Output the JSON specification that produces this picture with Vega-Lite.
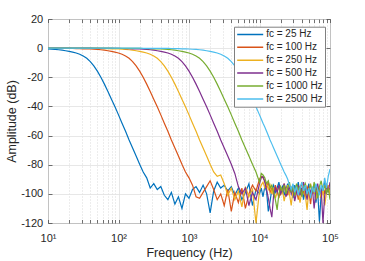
{
"$schema": "https://vega.github.io/schema/vega-lite/v6.json",
"width": 282, "height": 204,
"autosize": {"type": "none"},
"padding": {"left": 48, "top": 19, "right": 35, "bottom": 38},
"background": "white",
"config": {
  "view": {"stroke": "#4d4d4d", "strokeWidth": 1},
  "font": "Liberation Sans",
  "axis": {"domain": false, "labelFont": "Liberation Sans", "labelFontSize": 11, "labelColor": "#262626", "titleFont": "Liberation Sans", "titleFontSize": 12.5, "titleFontWeight": "normal", "titleColor": "#262626", "tickColor": "#4d4d4d", "tickWidth": 0.8},
  "legend": {"labelFont": "Liberation Sans", "labelFontSize": 10, "labelColor": "#262626"}
},
"data": {"values": [
{"f":10,"25":-0.6,"100":-0.1,"250":0,"500":0,"1000":0,"2500":0},
{"f":11.22,"25":-0.75,"100":-0.1,"250":0,"500":0,"1000":0,"2500":0},
{"f":12.59,"25":-0.9,"100":-0.1,"250":0,"500":0,"1000":0,"2500":0},
{"f":14.13,"25":-1.1,"100":-0.12,"250":0,"500":0,"1000":0,"2500":0},
{"f":15.85,"25":-1.4,"100":-0.15,"250":-0.05,"500":0,"1000":0,"2500":0},
{"f":17.78,"25":-1.8,"100":-0.17,"250":-0.05,"500":0,"1000":0,"2500":0},
{"f":19.95,"25":-2.2,"100":-0.2,"250":-0.05,"500":0,"1000":0,"2500":0},
{"f":22.39,"25":-2.7,"100":-0.25,"250":-0.1,"500":0,"1000":0,"2500":0},
{"f":25.12,"25":-3.3,"100":-0.3,"250":-0.1,"500":0,"1000":0,"2500":0},
{"f":28.18,"25":-4.2,"100":-0.37,"250":-0.1,"500":0,"1000":0,"2500":0},
{"f":31.62,"25":-5.4,"100":-0.45,"250":-0.1,"500":-0.05,"1000":0,"2500":0},
{"f":35.48,"25":-7,"100":-0.52,"250":-0.12,"500":-0.05,"1000":0,"2500":0},
{"f":39.81,"25":-9.2,"100":-0.6,"250":-0.15,"500":-0.05,"1000":0,"2500":0},
{"f":44.67,"25":-12.2,"100":-0.75,"250":-0.17,"500":-0.1,"1000":0,"2500":0},
{"f":50.12,"25":-15.8,"100":-0.9,"250":-0.2,"500":-0.1,"1000":0,"2500":0},
{"f":56.23,"25":-20,"100":-1.1,"250":-0.25,"500":-0.1,"1000":0,"2500":0},
{"f":63.1,"25":-24.7,"100":-1.4,"250":-0.3,"500":-0.1,"1000":-0.05,"2500":0},
{"f":70.79,"25":-29.7,"100":-1.8,"250":-0.37,"500":-0.12,"1000":-0.05,"2500":0},
{"f":79.43,"25":-35,"100":-2.2,"250":-0.45,"500":-0.15,"1000":-0.05,"2500":0},
{"f":89.13,"25":-40.2,"100":-2.7,"250":-0.52,"500":-0.17,"1000":-0.1,"2500":0},
{"f":100,"25":-45.8,"100":-3.3,"250":-0.6,"500":-0.2,"1000":-0.1,"2500":0},
{"f":112.2,"25":-51.5,"100":-4.2,"250":-0.75,"500":-0.25,"1000":-0.1,"2500":0},
{"f":125.9,"25":-57,"100":-5.4,"250":-0.9,"500":-0.3,"1000":-0.1,"2500":0},
{"f":141.3,"25":-63,"100":-7,"250":-1.1,"500":-0.37,"1000":-0.12,"2500":0},
{"f":158.5,"25":-68.5,"100":-9.2,"250":-1.4,"500":-0.45,"1000":-0.15,"2500":-0.05},
{"f":177.8,"25":-74,"100":-12.2,"250":-1.8,"500":-0.52,"1000":-0.17,"2500":-0.05},
{"f":199.5,"25":-79.7,"100":-15.8,"250":-2.2,"500":-0.6,"1000":-0.2,"2500":-0.05},
{"f":223.9,"25":-85,"100":-20,"250":-2.7,"500":-0.75,"1000":-0.25,"2500":-0.1},
{"f":251.2,"25":-89,"100":-24.7,"250":-3.3,"500":-0.9,"1000":-0.3,"2500":-0.1},
{"f":281.8,"25":-96,"100":-29.7,"250":-4.2,"500":-1.1,"1000":-0.37,"2500":-0.1},
{"f":316.2,"25":-93,"100":-35,"250":-5.4,"500":-1.4,"1000":-0.45,"2500":-0.1},
{"f":354.8,"25":-97,"100":-40.2,"250":-7,"500":-1.8,"1000":-0.52,"2500":-0.12},
{"f":398.1,"25":-95,"100":-45.8,"250":-9.2,"500":-2.2,"1000":-0.6,"2500":-0.15},
{"f":446.7,"25":-101,"100":-51.5,"250":-12.2,"500":-2.7,"1000":-0.75,"2500":-0.17},
{"f":501.2,"25":-104,"100":-57,"250":-15.8,"500":-3.3,"1000":-0.9,"2500":-0.2},
{"f":562.3,"25":-99,"100":-63,"250":-20,"500":-4.2,"1000":-1.1,"2500":-0.25},
{"f":631,"25":-107,"100":-68.5,"250":-24.7,"500":-5.4,"1000":-1.4,"2500":-0.3},
{"f":707.9,"25":-102,"100":-74,"250":-29.7,"500":-7,"1000":-1.8,"2500":-0.37},
{"f":794.3,"25":-110,"100":-79.7,"250":-35,"500":-9.2,"1000":-2.2,"2500":-0.45},
{"f":891.3,"25":-100,"100":-85,"250":-40.2,"500":-12.2,"1000":-2.7,"2500":-0.52},
{"f":1000,"25":-103,"100":-89,"250":-45.8,"500":-15.8,"1000":-3.3,"2500":-0.6},
{"f":1122,"25":-97,"100":-94,"250":-51.5,"500":-20,"1000":-4.2,"2500":-0.75},
{"f":1259,"25":-95,"100":-102,"250":-57,"500":-24.7,"1000":-5.4,"2500":-0.9},
{"f":1413,"25":-99,"100":-103,"250":-63,"500":-29.7,"1000":-7,"2500":-1.1},
{"f":1585,"25":-94,"100":-99,"250":-68.5,"500":-35,"1000":-9.2,"2500":-1.4},
{"f":1778,"25":-100,"100":-95,"250":-74,"500":-40.2,"1000":-12.2,"2500":-1.8},
{"f":1995,"25":-113,"100":-91,"250":-79.7,"500":-45.8,"1000":-15.8,"2500":-2.2},
{"f":2239,"25":-98,"100":-97,"250":-85,"500":-51.5,"1000":-20,"2500":-2.7},
{"f":2512,"25":-92,"100":-104,"250":-88,"500":-57,"1000":-24.7,"2500":-3.3},
{"f":2818,"25":-96,"100":-100,"250":-87,"500":-63,"1000":-29.7,"2500":-4.2},
{"f":3162,"25":-94,"100":-108,"250":-93,"500":-68.5,"1000":-35,"2500":-5.4},
{"f":3548,"25":-98,"100":-97,"250":-101,"500":-74,"1000":-40.2,"2500":-7},
{"f":3981,"25":-95,"100":-112,"250":-96,"500":-79.7,"1000":-45.8,"2500":-9.2},
{"f":4467,"25":-101,"100":-99,"250":-104,"500":-86,"1000":-51.5,"2500":-12.2},
{"f":5012,"25":-96,"100":-106,"250":-98,"500":-95,"1000":-57,"2500":-15.8},
{"f":5623,"25":-104,"100":-96,"250":-109,"500":-100,"1000":-63,"2500":-20},
{"f":6310,"25":-99,"100":-110,"250":-95,"500":-96,"1000":-68.5,"2500":-24.7},
{"f":7079,"25":-93,"100":-100,"250":-102,"500":-108,"1000":-74,"2500":-29.7},
{"f":7943,"25":-108,"100":-94,"250":-97,"500":-99,"1000":-79.7,"2500":-35},
{"f":8913,"25":-97,"100":-98,"250":-120,"500":-104,"1000":-85,"2500":-40.2},
{"f":10000,"25":-100,"100":-90,"250":-98,"500":-93,"1000":-92,"2500":-45.8},
{"f":10593,"25":-96,"100":-88,"250":-94,"500":-89,"1000":-86,"2500":-48.6},
{"f":11220,"25":-102,"100":-89,"250":-92,"500":-88,"1000":-87,"2500":-51.5},
{"f":11885,"25":-95,"100":-91,"250":-96,"500":-92,"1000":-89,"2500":-54.2},
{"f":12589,"25":-98,"100":-95,"250":-93,"500":-97,"1000":-93,"2500":-57},
{"f":13335,"25":-112,"100":-92,"250":-97,"500":-103,"1000":-91,"2500":-60},
{"f":14125,"25":-105,"100":-99,"250":-94,"500":-110,"1000":-96,"2500":-63},
{"f":14962,"25":-97,"100":-96,"250":-100,"500":-116,"1000":-94,"2500":-65.7},
{"f":15849,"25":-94,"100":-101,"250":-96,"500":-101,"1000":-99,"2500":-68.5},
{"f":16788,"25":-99,"100":-94,"250":-103,"500":-96,"1000":-104,"2500":-71.2},
{"f":17783,"25":-96,"100":-98,"250":-99,"500":-99,"1000":-111,"2500":-74},
{"f":18836,"25":-92,"100":-103,"250":-95,"500":-94,"1000":-100,"2500":-76.8},
{"f":19953,"25":-98,"100":-96,"250":-101,"500":-100,"1000":-95,"2500":-79.7},
{"f":21135,"25":-95,"100":-99,"250":-97,"500":-97,"1000":-98,"2500":-82.3},
{"f":22387,"25":-101,"100":-93,"250":-105,"500":-93,"1000":-94,"2500":-85},
{"f":23714,"25":-97,"100":-97,"250":-99,"500":-102,"1000":-100,"2500":-87.3},
{"f":25119,"25":-93,"100":-101,"250":-94,"500":-98,"1000":-96,"2500":-90},
{"f":26607,"25":-99,"100":-95,"250":-100,"500":-95,"1000":-92,"2500":-94},
{"f":28184,"25":-96,"100":-98,"250":-108,"500":-100,"1000":-99,"2500":-97},
{"f":29854,"25":-103,"100":-94,"250":-97,"500":-96,"1000":-95,"2500":-93},
{"f":31623,"25":-94,"100":-100,"250":-102,"500":-105,"1000":-101,"2500":-99},
{"f":33497,"25":-98,"100":-97,"250":-95,"500":-99,"1000":-93,"2500":-95},
{"f":35481,"25":-92,"100":-104,"250":-99,"500":-94,"1000":-97,"2500":-101},
{"f":37584,"25":-100,"100":-96,"250":-106,"500":-101,"1000":-95,"2500":-96},
{"f":39811,"25":-96,"100":-93,"250":-98,"500":-97,"1000":-102,"2500":-92},
{"f":42170,"25":-104,"100":-99,"250":-94,"500":-92,"1000":-96,"2500":-98},
{"f":44668,"25":-95,"100":-102,"250":-101,"500":-98,"1000":-93,"2500":-94},
{"f":47315,"25":-99,"100":-95,"250":-111,"500":-104,"1000":-100,"2500":-100},
{"f":50119,"25":-93,"100":-98,"250":-97,"500":-95,"1000":-97,"2500":-96},
{"f":53088,"25":-101,"100":-107,"250":-93,"500":-99,"1000":-94,"2500":-103},
{"f":56234,"25":-97,"100":-96,"250":-100,"500":-96,"1000":-99,"2500":-95},
{"f":59566,"25":-94,"100":-100,"250":-96,"500":-110,"1000":-92,"2500":-99},
{"f":63096,"25":-106,"100":-94,"250":-104,"500":-98,"1000":-97,"2500":-93},
{"f":66834,"25":-98,"100":-99,"250":-95,"500":-93,"1000":-103,"2500":-97},
{"f":70795,"25":-119,"100":-97,"250":-99,"500":-100,"1000":-95,"2500":-101},
{"f":74989,"25":-100,"100":-103,"250":-102,"500":-96,"1000":-91,"2500":-94},
{"f":79433,"25":-95,"100":-95,"250":-96,"500":-120,"1000":-98,"2500":-98},
{"f":84140,"25":-92,"100":-100,"250":-108,"500":-101,"1000":-94,"2500":-89},
{"f":89125,"25":-99,"100":-93,"250":-99,"500":-94,"1000":-100,"2500":-96},
{"f":94406,"25":-96,"100":-98,"250":-94,"500":-99,"1000":-96,"2500":-88},
{"f":100000,"25":-97,"100":-96,"250":-101,"500":-92,"1000":-104,"2500":-83}
]},
"transform": [{"fold": ["25","100","250","500","1000","2500"], "as": ["fc","amp"]}],
"layer": [
  {
    "mark": {"type": "line", "strokeWidth": 1.2, "clip": true},
    "encoding": {
      "x": {"field": "f", "type": "quantitative",
        "scale": {"type": "log", "domain": [10, 100000], "nice": false},
        "axis": {"orient": "bottom",
          "values": [10,20,30,40,50,60,70,80,90,100,200,300,400,500,600,700,800,900,1000,2000,3000,4000,5000,6000,7000,8000,9000,10000,20000,30000,40000,50000,60000,70000,80000,90000,100000],
          "labelExpr": "abs(log(datum.value)/LN10 - round(log(datum.value)/LN10)) < 0.01 ? '10' + ['⁰','¹','²','³','⁴','⁵'][round(log(datum.value)/LN10)] : ''",
          "labelFlush": false, "labelOverlap": false, "labelBound": false,
          "tickSize": -3.5, "labelPadding": 12.5,
          "grid": true,
          "gridColor": {"condition": {"test": "abs(log(datum.value)/LN10 - round(log(datum.value)/LN10)) < 0.01", "value": "#e1e1e1"}, "value": "#d2d2d2"},
          "gridDash": {"condition": {"test": "abs(log(datum.value)/LN10 - round(log(datum.value)/LN10)) < 0.01", "value": []}, "value": [1, 2]},
          "gridWidth": 0.8,
          "title": "Frequency (Hz)", "titleY": 33, "titleBaseline": "alphabetic"}},
      "y": {"field": "amp", "type": "quantitative",
        "scale": {"domain": [-120, 20], "nice": false, "zero": false},
        "axis": {"orient": "left", "values": [-120,-100,-80,-60,-40,-20,0,20],
          "labelExpr": "'' + datum.value",
          "tickSize": -4, "labelPadding": 9.3,
          "grid": true, "gridColor": "#e1e1e1", "gridWidth": 0.8,
          "title": "Amplitude (dB)", "titleX": -32.5, "titleY": 102, "titleAngle": 270, "titleAlign": "center", "titleBaseline": "alphabetic"}},
      "color": {"field": "fc", "type": "nominal",
        "scale": {"domain": ["25","100","250","500","1000","2500"], "range": ["#0072BD","#D95319","#EDB120","#7E2F8E","#77AC30","#4DBEEE"]},
        "legend": {"orient": "none", "legendX": 186, "legendY": 7.7, "title": null,
          "labelExpr": "'fc = ' + datum.label + ' Hz'",
          "fillColor": "white", "strokeColor": "#808080", "padding": 2.2,
          "symbolType": "stroke", "symbolSize": 676, "symbolStrokeWidth": 1.5,
          "clipHeight": 11, "rowPadding": 1.9, "labelOffset": 2, "labelFontSize": 10}}
    }
  },
  {
    "mark": {"type": "line", "opacity": 0},
    "encoding": {
      "x": {"field": "f", "type": "quantitative",
        "scale": {"type": "log", "domain": [10, 100000], "nice": false},
        "axis": {"orient": "top",
          "values": [10,20,30,40,50,60,70,80,90,100,200,300,400,500,600,700,800,900,1000,2000,3000,4000,5000,6000,7000,8000,9000,10000,20000,30000,40000,50000,60000,70000,80000,90000,100000],
          "labels": false, "grid": false, "tickSize": -3.5, "title": null}},
      "y": {"field": "amp", "type": "quantitative",
        "scale": {"domain": [-120, 20], "nice": false, "zero": false},
        "axis": {"orient": "right", "values": [-120,-100,-80,-60,-40,-20,0,20],
          "labels": false, "grid": false, "tickSize": -4, "title": null}}
    }
  }
],
"resolve": {"axis": {"x": "independent", "y": "independent"}}
}
